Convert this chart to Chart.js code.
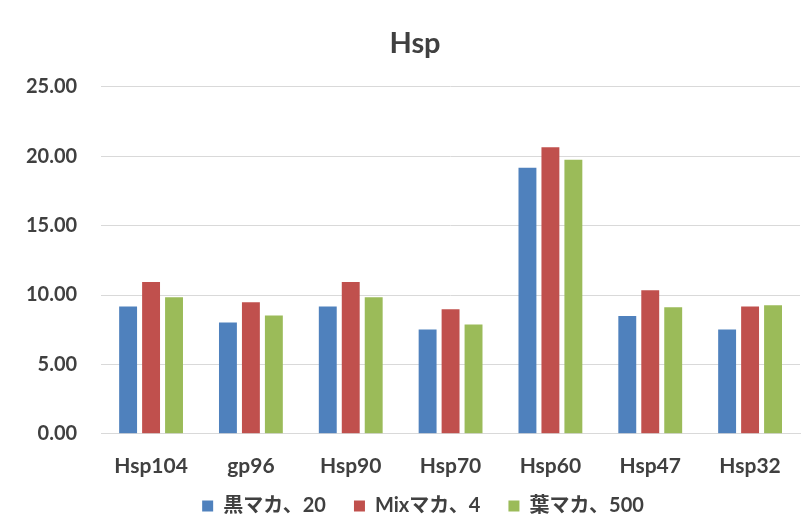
<!DOCTYPE html>
<html>
<head>
<meta charset="utf-8">
<script src="https://cdn.jsdelivr.net/npm/chart.js@4/dist/chart.umd.min.js"></script>
<style>
html,body{margin:0;padding:0;background:#fff;}
#wrap{width:812px;height:532px;}
</style>
</head>
<body>
<div id="wrap"><canvas id="c" width="812" height="532"></canvas></div>
<script>
const categories = ["Hsp104", "gp96", "Hsp90", "Hsp70", "Hsp60", "Hsp47", "Hsp32"];
const seriesNames = ["黒マカ、20", "Mixマカ、4", "葉マカ、500"];
const kuroMaca = [9.18, 8.02, 9.18, 7.51, 19.17, 8.48, 7.51];
const mixMaca = [10.93, 9.48, 10.93, 8.97, 20.65, 10.35, 9.18];
const haMaca = [9.84, 8.53, 9.84, 7.87, 19.75, 9.11, 9.26];
const yTicks = [0, 5, 10, 15, 20, 25];
const colors = ["#4F81BD", "#C0504D", "#9BBB59"];

const fontFam = "Lato, 'Noto Sans CJK JP', 'Noto Sans', sans-serif";
const data = {
  labels: categories,
  datasets: [kuroMaca, mixMaca, haMaca].map((d, i) => ({
    label: seriesNames[i],
    data: d,
    backgroundColor: colors[i],
    borderWidth: 0,
    categoryPercentage: 0.69,
    barPercentage: 0.78
  }))
};
const shiftPlugin = {
  id: 'shiftBlocks',
  afterLayout(chart) {
    if (chart.legend) { chart.legend.left += 22; chart.legend.right += 22; }
    if (chart.titleBlock) { chart.titleBlock.left += 14; chart.titleBlock.right += 14; }
  }
};
new Chart(document.getElementById('c'), {
  type: 'bar',
  data: data,
  plugins: [shiftPlugin],
  options: {
    responsive: false,
    animation: false,
    devicePixelRatio: 1,
    layout: { padding: { left: 2, right: 12, top: 12, bottom: 6 } },
    plugins: {
      title: {
        display: true,
        text: 'Hsp',
        color: '#404040',
        font: { family: fontFam, size: 29, weight: 'bold' },
        padding: { top: 14, bottom: 26 }
      },
      legend: {
        position: 'bottom',
        labels: {
          color: '#404040',
          font: { family: fontFam, size: 20, weight: 'bold' },
          boxWidth: 11,
          boxHeight: 11,
          padding: 28
        }
      },
      tooltip: { enabled: false }
    },
    scales: {
      x: {
        grid: { display: false, drawTicks: false },
        border: { display: true, color: '#d9d9d9', width: 1 },
        afterFit: (s) => {
          s.height = s.height - 31;
          s._computeLabelArea = () => undefined;
        },
        ticks: {
          color: '#404040',
          font: { family: fontFam, size: 21, weight: 'bold' },
          padding: 20
        }
      },
      y: {
        min: 0,
        max: 25,
        afterBuildTicks: (axis) => { axis.ticks = yTicks.map(v => ({ value: v })); },
        grid: { color: '#d9d9d9', drawTicks: false, lineWidth: 1 },
        border: { display: false },
        ticks: {
          color: '#404040',
          font: { family: fontFam, size: 20, weight: 'bold' },
          padding: 24,
          callback: (v) => Number(v).toFixed(2)
        }
      }
    }
  }
});
</script>
</body>
</html>
